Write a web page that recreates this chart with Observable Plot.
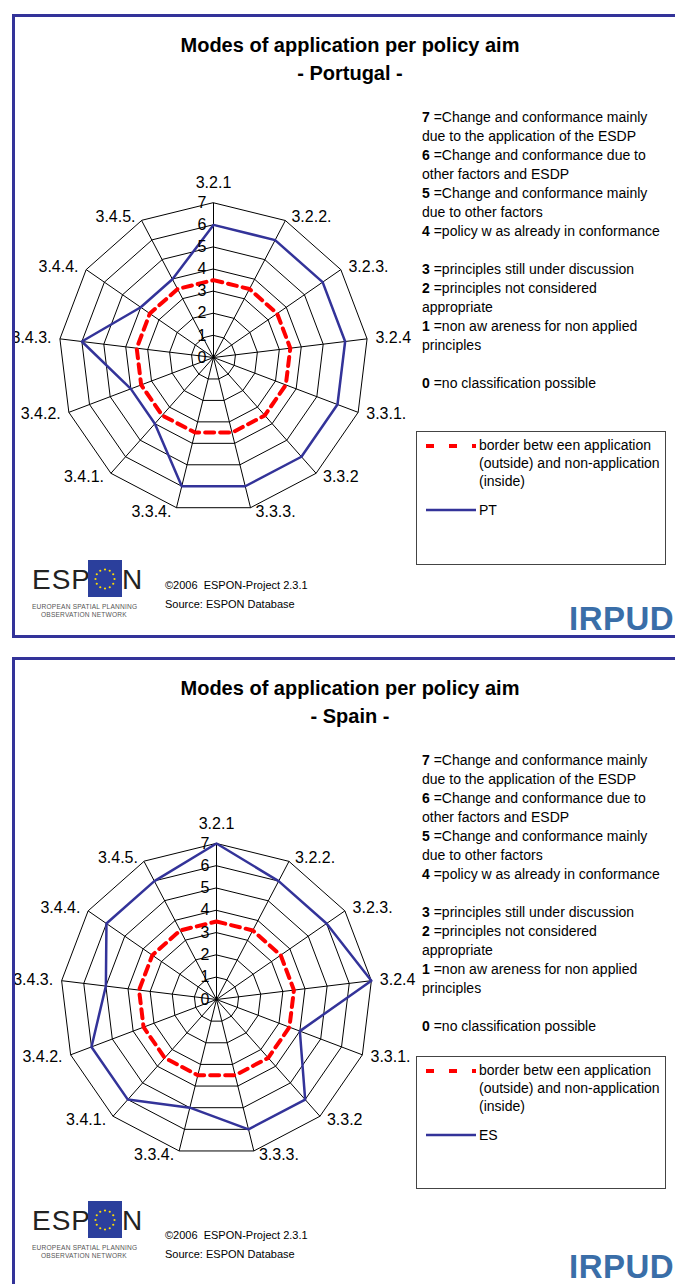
<!DOCTYPE html>
<html>
<head>
<meta charset="utf-8">
<script src="https://cdn.jsdelivr.net/npm/d3@7"></script>
<script src="https://cdn.jsdelivr.net/npm/@observablehq/plot@0.6"></script>
<style>
  html, body { margin: 0; padding: 0; background: #fff; }
  #page { position: relative; width: 675px; height: 1284px; overflow: hidden; background: #fff;
          font-family: "Liberation Sans", Arial, sans-serif; color: #000; }
  .panel { position: absolute; left: 12px; width: 720px; border: 3px solid #333399; box-sizing: border-box; z-index: 5; pointer-events: none; }
  .abs { position: absolute; }
  .title { position: absolute; left: 12px; width: 676px; text-align: center; font-weight: bold; font-size: 20px; line-height: 28px; }
  .codes { position: absolute; left: 422px; font-size: 14px; line-height: 19px; white-space: nowrap; }
  .codes b { font-weight: bold; }
  .legbox { position: absolute; left: 416px; width: 250px; border: 1px solid #444; box-sizing: border-box; background: #fff; }
  .legtext { position: absolute; left: 62px; font-size: 14px; line-height: 18px; white-space: nowrap; }
  .copy { position: absolute; left: 165px; font-size: 11px; line-height: 19px; white-space: nowrap; }
  .irpud { position: absolute; left: 569px; font-weight: bold; font-size: 33px; letter-spacing: 0.5px; color: #3a6ea8; line-height: 33px; }
  .espon { position: absolute; left: 32px; width: 120px; height: 70px; }
  .chart { position: absolute; left: 0px; z-index: 1; }
</style>
</head>
<body>
<div id="page"></div>
<script>
// ---------- data ----------
const axes = ["3.2.1", "3.2.2.", "3.2.3.", "3.2.4", "3.3.1.", "3.3.2", "3.3.3.", "3.3.4.", "3.4.1.", "3.4.2.", "3.4.3.", "3.4.4.", "3.4.5."];
const ringTicks = [0, 1, 2, 3, 4, 5, 6, 7];
const borderValues = [3.5, 3.5, 3.5, 3.5, 3.5, 3.5, 3.5, 3.5, 3.5, 3.5, 3.5, 3.5, 3.5];
const ptValues = [6, 6, 6, 6, 6, 6, 6, 6, 4, 4, 6, 4, 4];
const esValues = [7, 6, 6, 7, 4, 6, 6, 5, 6, 6, 5, 6, 6];
const codeLines = [
  ["7", "Change and conformance mainly"], [null, "due to the application of the ESDP"],
  ["6", "Change and conformance due to"], [null, "other factors and ESDP"],
  ["5", "Change and conformance mainly"], [null, "due to other factors"],
  ["4", "policy w as already in conformance"], [null, ""],
  ["3", "principles still under discussion"],
  ["2", "principles not considered"], [null, "appropriate"],
  ["1", "non aw areness for non applied"], [null, "principles"], [null, ""],
  ["0", "no classification possible"]
];
const borderLegend = ["border betw een application", "(outside) and non-application", "(inside)"];

// ---------- radar ----------
function radar(values, ppu, cx, cy, W, H) {
  const n = axes.length;
  const ang = i => 2 * Math.PI * i / n;
  const px = (r, i) => r * Math.sin(ang(i));
  const py = (r, i) => r * Math.cos(ang(i));
  const gridRows = ringTicks.filter(k => k > 0).flatMap(k => axes.map((a, i) => ({k, i})));
  const seriesRows = values.map((v, i) => ({v, i}));
  const borderRows = borderValues.map((v, i) => ({v, i}));
  const labelRows = axes.map((a, i) => ({a, i}));
  const right = labelRows.filter(d => d.i >= 1 && d.i <= 6);
  const left = labelRows.filter(d => d.i >= 7);
  const top = labelRows.filter(d => d.i === 0);
  const lr = 7.2;
  return Plot.plot({
    width: W, height: H, margin: 0,
    x: {domain: [-cx / ppu, (W - cx) / ppu], axis: null},
    y: {domain: [-(H - cy) / ppu, cy / ppu], axis: null},
    style: {fontFamily: "'Liberation Sans', Arial, sans-serif", background: "transparent", overflow: "visible"},
    marks: [
      Plot.line(gridRows, {x: d => px(d.k, d.i), y: d => py(d.k, d.i), z: "k", curve: "linear-closed", stroke: "#000", strokeWidth: 1}),
      Plot.link(labelRows, {x1: () => 0, y1: () => 0, x2: d => px(7, d.i), y2: d => py(7, d.i), stroke: "#000", strokeWidth: 1}),
      Plot.line(borderRows, {x: d => px(d.v, d.i), y: d => py(d.v, d.i), curve: "linear-closed", stroke: "#ff0000", strokeWidth: 4, strokeDasharray: "9,6"}),
      Plot.line(seriesRows, {x: d => px(d.v, d.i), y: d => py(d.v, d.i), curve: "linear-closed", stroke: "#333399", strokeWidth: 2.5}),
      Plot.text(ringTicks, {x: () => 0, y: d => d, text: d => String(d), textAnchor: "end", dx: -7, fontSize: 16, fill: "#000"}),
      Plot.text(top, {x: d => px(7, d.i), y: d => py(7, d.i), text: "a", textAnchor: "middle", dy: -20, fontSize: 16, fill: "#000"}),
      Plot.text(right, {x: d => px(lr, d.i), y: d => py(lr, d.i), text: "a", textAnchor: "start", dx: 4, fontSize: 16, fill: "#000"}),
      Plot.text(left, {x: d => px(lr, d.i), y: d => py(lr, d.i), text: "a", textAnchor: "end", dx: -4, fontSize: 16, fill: "#000"})
    ]
  });
}

const page = document.getElementById("page");
function el(tag, cls, style, html) {
  const e = document.createElement(tag);
  if (cls) e.className = cls;
  if (style) e.setAttribute("style", style);
  if (html != null) e.innerHTML = html;
  page.appendChild(e);
  return e;
}

function esponLogo(top) {
  const stars = d3.range(12).map(i => {
    const a = 2 * Math.PI * i / 12;
    return `<circle cx="${(73 + 9.5 * Math.sin(a)).toFixed(2)}" cy="${(19 - 9.5 * Math.cos(a)).toFixed(2)}" r="1.1" fill="#ffdd00"/>`;
  }).join("");
  el("div", "espon", `top:${top}px`,
    `<svg width="120" height="70" xmlns="http://www.w3.org/2000/svg" style="font-family:'Liberation Sans',Arial,sans-serif">
      <text x="0" y="29" font-size="28" fill="#222" letter-spacing="1">ESP</text>
      <rect x="56" y="0" width="34" height="37" fill="#2b3f9c"/>${stars}
      <text x="90" y="29" font-size="28" fill="#222">N</text>
      <text x="0" y="49" font-size="6.6" fill="#555" letter-spacing="0.2">EUROPEAN SPATIAL PLANNING</text>
      <text x="9" y="57" font-size="6.6" fill="#555" letter-spacing="0.2">OBSERVATION NETWORK</text>
    </svg>`);
}

function panel(cfg) {
  el("div", "panel", `top:${cfg.top}px;height:${cfg.height}px`);
  el("div", "title", `top:${cfg.titleTop}px`, `Modes of application per policy aim<br>- ${cfg.country} -`);
  el("div", "codes", `top:${cfg.codesTop}px`,
    codeLines.map(([k, t]) => k ? `<b>${k}</b> =${t}` : (t || "&nbsp;")).join("<br>"));
  const W = 430, H = 400;
  const svg = radar(cfg.values, cfg.ppu, cfg.cx, cfg.cy - cfg.chartTop, W, H);
  svg.classList.add("chart");
  svg.style.top = cfg.chartTop + "px";
  svg.style.position = "absolute";
  page.appendChild(svg);
  const lb = el("div", "legbox", `top:${cfg.legTop}px;height:${cfg.legHeight}px`);
  lb.innerHTML = `
    <svg class="abs" style="left:9px;top:11px" width="52" height="6"><line x1="0" y1="3" x2="50" y2="3" stroke="#ff0000" stroke-width="4" stroke-dasharray="8,15"/></svg>
    <div class="legtext" style="top:4px">${borderLegend.join("<br>")}</div>
    <svg class="abs" style="left:9px;top:76px" width="52" height="4"><line x1="0" y1="2" x2="50" y2="2" stroke="#333399" stroke-width="2.5"/></svg>
    <div class="legtext" style="top:69px">${cfg.code}</div>`;
  esponLogo(cfg.logoTop);
  el("div", "copy", `top:${cfg.copyTop}px`, "©2006&nbsp; ESPON-Project 2.3.1<br>Source: ESPON Database");
  el("div", "irpud", `top:${cfg.irpudTop}px`, "IRPUD");
}

panel({top: 14, height: 624, titleTop: 31, country: "Portugal", codesTop: 108, values: ptValues, code: "PT",
       ppu: 154.7 / 7, cx: 213, cy: 357, chartTop: 150, legTop: 431, legHeight: 134,
       logoTop: 560, copyTop: 576, irpudTop: 602});
panel({top: 657, height: 700, titleTop: 674, country: "Spain", codesTop: 751, values: esValues, code: "ES",
       ppu: 156 / 7, cx: 216, cy: 999, chartTop: 792, legTop: 1056, legHeight: 133,
       logoTop: 1201, copyTop: 1226, irpudTop: 1250});
</script>
</body>
</html>
